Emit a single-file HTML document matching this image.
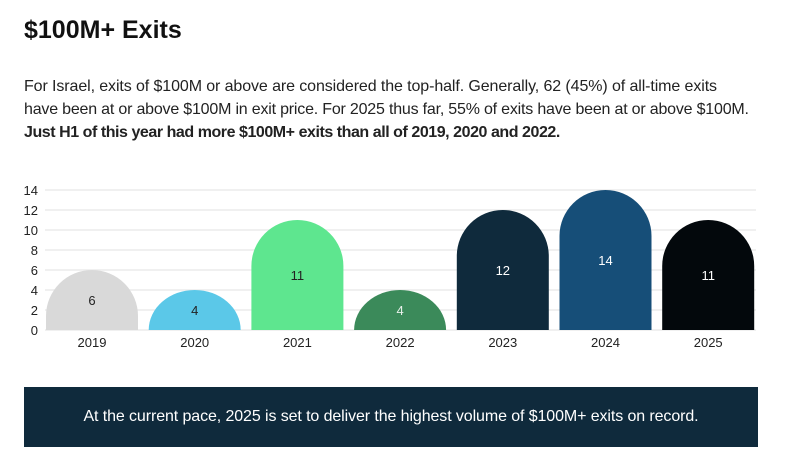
<!DOCTYPE html>
<html><head><meta charset="utf-8"><style>
body{margin:0;width:787px;height:462px;background:#fff;font-family:"Liberation Sans",sans-serif;color:#111;position:relative;overflow:hidden}
h1{position:absolute;left:24px;top:16px;margin:0;font-size:25px;font-weight:bold}
.p{position:absolute;left:24px;top:75px;width:780px;font-size:16px;line-height:23px;color:#222;white-space:nowrap;letter-spacing:-0.1px}
.p b{letter-spacing:-0.45px}
.l2{letter-spacing:-0.2px}
.banner{position:absolute;left:24px;top:387px;width:734px;height:60px;background:#0f2a3c;color:#fff;font-size:16px;line-height:60px;text-align:center;letter-spacing:-0.1px}
svg{position:absolute;left:0;top:0}
</style></head><body>
<h1>$100M+ Exits</h1>
<div class="p">For Israel, exits of $100M or above are considered the top-half. Generally, 62 (45%) of all-time exits<br><span class="l2">have been at or above $100M in exit price. For 2025 thus far, 55% of exits have been at or above $100M.</span><br><b>Just H1 of this year had more $100M+ exits than all of 2019, 2020 and 2022.</b></div>
<svg id="c" width="787" height="380"></svg>
<div class="banner">At the current pace, 2025 is set to deliver the highest volume of $100M+ exits on record.</div>
<script>
const categories=["2019","2020","2021","2022","2023","2024","2025"];
const values=[6,4,11,4,12,14,11];
const colors=["#d9d9d9","#5bc8e8","#5ee68f","#3b8a5a","#0f2a3c","#164e78","#03080c"];
const labelColors=["#222","#222","#222","#e8f0ea","#fff","#fff","#fff"];
const ticks=[0,2,4,6,8,10,12,14];
const ns="http://www.w3.org/2000/svg",svg=document.getElementById('c');
const y0=330,pu=10,x0=46,step=102.7,bw=92;
const y=v=>y0-v*pu, x=i=>x0+i*step;
function mk(t,a){const e=document.createElementNS(ns,t);for(const k in a)e.setAttribute(k,a[k]);svg.appendChild(e);return e;}
ticks.forEach(t=>{
 const l=mk('line',{x1:45,x2:756,y1:y(t),y2:y(t),stroke:'#ececec','stroke-width':1.5});
 
 
 const tx=mk('text',{x:38,y:y(t)+5,'text-anchor':'end','font-size':13,fill:'#222','font-family':'Liberation Sans'});
 tx.textContent=t;
 
 
});
values.forEach((v,i)=>{
 const h=y0-y(v),l=x(i),r=l+bw,rx=bw/2,ry=Math.min(rx,h);
 const p=mk('path',{d:`M${l},${y0} L${l},${y0-h+ry} A${rx},${ry} 0 0 1 ${r},${y0-h+ry} L${r},${y0} Z`,fill:colors[i]});
 
 
 const t=mk('text',{x:l+rx,y:y0-h/2+5,'text-anchor':'middle','font-size':13,fill:labelColors[i],'font-family':'Liberation Sans'});
 t.textContent=v;
 
 
 const c=mk('text',{x:l+rx,y:347,'text-anchor':'middle','font-size':13,fill:'#222','font-family':'Liberation Sans'});
 c.textContent=categories[i];
 
 
});
</script>
</body></html>
